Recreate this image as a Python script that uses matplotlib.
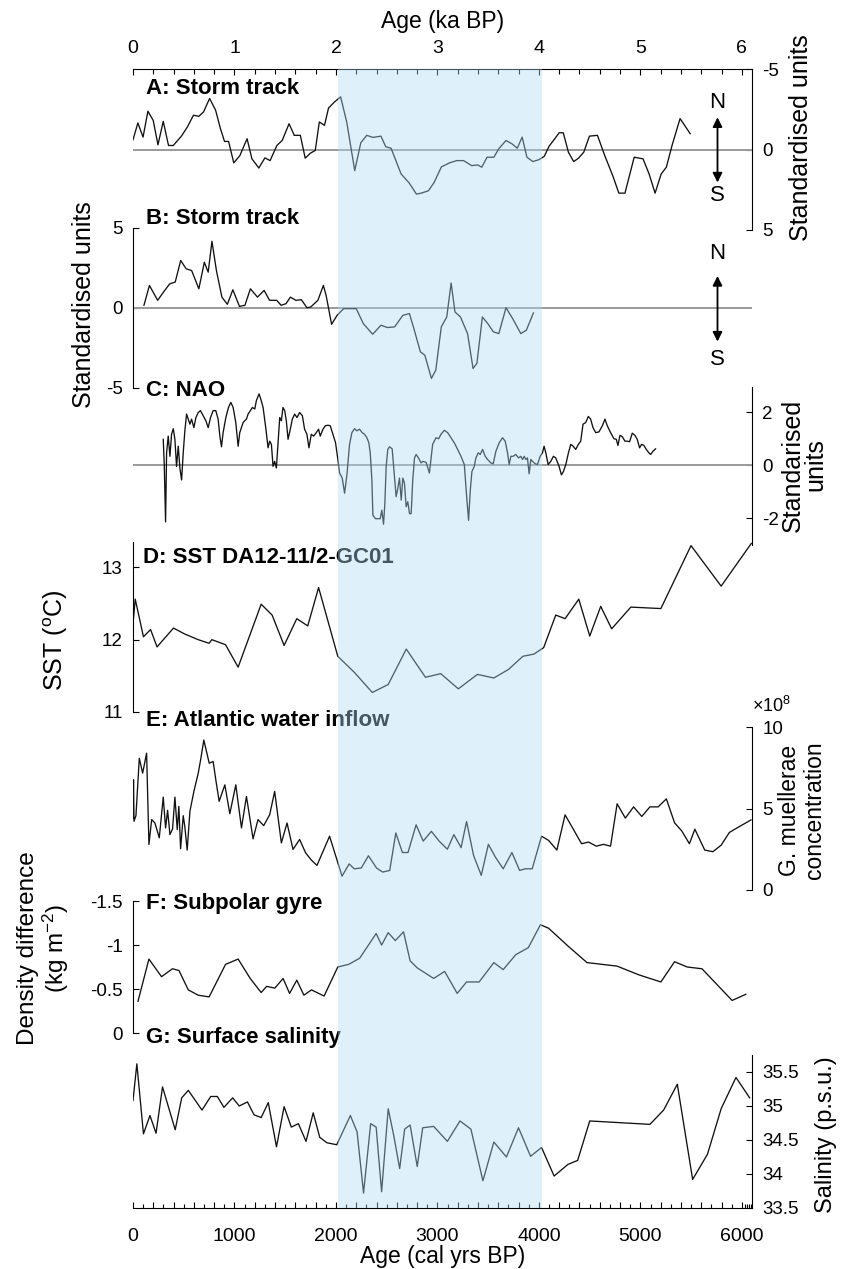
import matplotlib
matplotlib.use("Agg")
import matplotlib.pyplot as plt
from matplotlib.ticker import FixedLocator, FuncFormatter
from matplotlib import font_manager

names = {f.name for f in font_manager.fontManager.ttflist}
NARROW = ['Liberation Sans Narrow', 'Liberation Sans', 'DejaVu Sans'] if 'Liberation Sans Narrow' in names else ['Liberation Sans', 'DejaVu Sans']
REG = ['Liberation Sans', 'DejaVu Sans']
plt.rcParams['font.family'] = REG
plt.rcParams['mathtext.fontset'] = 'custom'
plt.rcParams['mathtext.rm'] = 'Liberation Sans'
plt.rcParams['mathtext.it'] = 'Liberation Sans:italic'
plt.rcParams['axes.unicode_minus'] = False

# ---------------- data ----------------
a_age = [0, 48, 99, 147, 199, 246, 298, 350, 397, 477, 536, 596, 648, 695, 755, 814, 862, 902, 942, 993,
         1053, 1124, 1172, 1240, 1300, 1351, 1418, 1470, 1538, 1589, 1649, 1697, 1748, 1796, 1836, 1887,
         1927, 1987, 2046, 2106, 2185, 2245, 2304, 2364, 2443, 2491, 2543, 2642, 2722, 2793, 2841, 2912,
         2968, 3039, 3119, 3190, 3258, 3337, 3397, 3437, 3489, 3556, 3604, 3676, 3735, 3787, 3835, 3882,
         3941, 4001, 4053, 4101, 4152, 4200, 4240, 4291, 4343, 4390, 4442, 4498, 4577, 4649, 4728, 4788,
         4848, 4939, 5026, 5086, 5145, 5205, 5256, 5312, 5391, 5491]
a_val = [-0.60, -1.65, -0.77, -2.38, -1.81, -0.29, -1.75, -0.25, -0.25, -0.83, -1.40, -2.13, -2.06, -2.33,
         -3.17, -2.44, -1.29, -0.50, -0.50, 0.83, 0.38, -0.67, 0.58, 1.15, 0.52, 0.69, -0.25, -0.56, -1.60,
         -0.88, -0.88, 0.54, 0.23, 0.06, -1.71, -1.50, -2.58, -2.96, -3.27, -1.71, 1.31, -0.42, -0.88, -0.75,
         -0.83, -0.17, -0.08, 1.52, 2.08, 2.77, 2.71, 2.56, 2.04, 1.08, 0.83, 0.69, 0.69, 1.00, 0.96, 1.10,
         0.48, 0.48, -0.04, -0.56, -0.35, -0.08, -0.77, 0.48, 0.75, 0.63, 0.42, -0.21, -0.63, -1.04, -1.04,
         0.17, 0.75, 0.54, 0.17, -0.83, -0.88, 0.38, 1.63, 2.71, 2.71, 0.48, 0.58, 1.52, 2.71, 1.52, 1.10,
         -0.25, -1.92, -0.98]

b_age = [108, 162, 243, 308, 362, 416, 470, 524, 578, 649, 703, 741, 778, 822, 876, 930, 984, 1049, 1103,
         1157, 1227, 1292, 1346, 1416, 1459, 1508, 1551, 1605, 1659, 1714, 1751, 1822, 1876, 1903, 1957,
         2011, 2076, 2146, 2200, 2270, 2362, 2443, 2508, 2578, 2659, 2724, 2768, 2832, 2876, 2941, 2984,
         3038, 3092, 3135, 3173, 3227, 3297, 3351, 3389, 3443, 3497, 3551, 3605, 3676, 3741, 3822, 3876, 3946]
b_val = [0.17, 1.41, 0.48, 1.06, 1.51, 1.62, 2.97, 2.45, 2.34, 1.20, 2.86, 2.24, 4.17, 2.34, 0.68, 0.23,
         1.14, 0.10, 0.17, 1.20, 0.68, 1.10, 0.48, 0.48, 0.17, 0.27, 0.68, 0.48, 0.52, 0.02, 0.06, 0.48,
         1.41, 0.79, -1.02, -0.46, -0.04, -0.04, -0.04, -0.98, -1.64, -1.08, -1.22, -1.18, -0.46, -0.35,
         -1.29, -2.74, -2.95, -4.40, -3.88, -1.18, -0.56, 1.56, -0.25, -0.56, -1.60, -3.78, -3.46, -0.56,
         -0.98, -1.49, -1.60, 0.02, -0.66, -1.60, -1.39, -0.31]

c_age = [298, 308, 321, 331, 347, 364, 380, 397, 413, 429, 446, 462, 479, 495, 511, 528, 544, 561, 577,
         600, 620, 643, 665, 692, 718, 741, 764, 790, 816, 839, 856, 872, 888, 915, 941, 964, 987, 1013,
         1036, 1052, 1085, 1101, 1118, 1134, 1157, 1177, 1200, 1216, 1242, 1259, 1282, 1308, 1331, 1347,
         1364, 1380, 1396, 1413, 1429, 1446, 1462, 1478, 1495, 1511, 1528, 1550, 1570, 1593, 1616, 1642,
         1669, 1691, 1714, 1734, 1757, 1780, 1806, 1829, 1845, 1872, 1895, 1921, 1944, 1970, 1996, 2019,
         2036, 2062, 2085, 2108, 2134, 2157, 2183, 2206, 2232, 2259, 2282, 2305, 2324, 2338, 2354, 2364,
         2390, 2413, 2436, 2452, 2469, 2482, 2495, 2511, 2528, 2554, 2577, 2593, 2610, 2626, 2643, 2659,
         2675, 2692, 2708, 2725, 2741, 2757, 2774, 2790, 2813, 2839, 2856, 2889, 2921, 2953, 2986, 3012,
         3035, 3068, 3101, 3134, 3166, 3199, 3232, 3265, 3288, 3307, 3324, 3340, 3363, 3379, 3402, 3422,
         3445, 3471, 3494, 3527, 3550, 3576, 3609, 3642, 3668, 3691, 3707, 3724, 3746, 3773, 3799, 3822,
         3838, 3855, 3871, 3887, 3904, 3920, 3937, 3963, 3986, 4012, 4035, 4051, 4068, 4091, 4117, 4143,
         4166, 4183, 4199, 4222, 4242, 4265, 4291, 4314, 4337, 4363, 4389, 4412, 4435, 4461, 4487, 4510,
         4533, 4560, 4592, 4625, 4651, 4674, 4707, 4740, 4763, 4779, 4799, 4822, 4848, 4871, 4894, 4920,
         4946, 4969, 4992, 5012, 5035, 5058, 5084, 5101, 5124, 5150]
c_val = [0.98, 0.03, -2.13, 0.47, 1.10, 0.34, 1.17, 1.38, 0.98, -0.04, 0.72, -0.10, -0.55, 0.47, 1.30,
         1.93, 1.74, 1.55, 1.74, 1.42, 1.80, 1.99, 2.06, 1.87, 1.68, 1.42, 1.80, 2.06, 2.06, 1.74, 1.10,
         0.70, 1.23, 1.80, 2.18, 2.37, 2.18, 1.61, 0.72, 1.23, 1.61, 1.68, 1.74, 1.93, 2.06, 2.18, 2.12,
         2.44, 2.69, 2.50, 2.18, 1.42, 0.66, 0.91, 0.79, -0.04, 0.15, -0.10, 0.85, 1.80, 1.68, 2.18, 2.06,
         1.68, 0.98, 1.36, 1.74, 1.93, 1.80, 1.99, 1.87, 1.36, 1.17, 0.66, 1.17, 1.10, 1.23, 1.36, 1.10,
         1.36, 1.49, 1.51, 1.49, 1.17, 0.85, 0.22, -0.29, -0.48, -1.05, -0.36, 0.79, 1.23, 1.38, 1.30,
         1.36, 1.23, 1.17, 1.04, 0.85, 0.47, -0.55, -1.88, -2.01, -2.01, -2.01, -1.69, -2.22, -1.43, -0.04,
         0.60, 0.70, 0.62, -0.42, -1.18, -0.86, -0.48, -1.31, -0.48, -0.67, -1.56, -1.37, -1.82, -1.82,
         -0.55, 0.28, 0.41, 0.28, 0.09, 0.15, 0.11, -0.29, 0.79, 1.04, 1.00, 1.17, 1.32, 1.23, 1.04, 0.85,
         0.60, 0.34, 0.03, -1.18, -2.07, -0.93, -0.23, -0.04, 0.28, 0.47, 0.41, 0.60, 0.34, 0.22, 0.09,
         0.06, 0.53, 0.85, 1.04, 0.91, 0.47, 0.03, 0.34, 0.34, 0.41, 0.28, 0.34, 0.22, 0.34, 0.22, 0.28,
         -0.32, 0.22, 0.15, 0.06, 0.03, 0.34, 0.47, 0.72, 0.47, 0.03, 0.15, 0.34, 0.28, 0.11, -0.04, -0.36,
         -0.23, 0.03, 0.47, 0.79, 0.72, 0.60, 0.79, 0.91, 1.55, 1.61, 1.84, 1.74, 1.42, 1.23, 1.26, 1.49,
         1.74, 1.49, 1.23, 1.00, 0.98, 0.75, 1.13, 1.08, 0.91, 0.91, 0.89, 1.21, 1.13, 0.98, 0.66, 0.79,
         0.75, 0.60, 0.47, 0.41, 0.53, 0.62]

d_age = [0, 22, 103, 173, 237, 399, 507, 642, 750, 777, 912, 1036, 1263, 1371, 1489, 1614, 1722, 1829,
         2018, 2180, 2358, 2515, 2693, 2882, 3033, 3206, 3394, 3556, 3702, 3842, 3950, 4047, 4166, 4258,
         4393, 4501, 4609, 4717, 4906, 5202, 5499, 5796, 6093]
d_val = [12.22, 12.56, 12.04, 12.14, 11.90, 12.16, 12.08, 12.00, 11.95, 12.00, 11.93, 11.62, 12.49, 12.34,
         11.92, 12.29, 12.19, 12.72, 11.77, 11.55, 11.27, 11.38, 11.87, 11.48, 11.53, 11.32, 11.52, 11.47,
         11.59, 11.77, 11.80, 11.89, 12.34, 12.29, 12.56, 12.05, 12.46, 12.15, 12.45, 12.43, 13.30, 12.74,
         13.33]

e_age = [0, 5, 10, 29, 62, 95, 134, 157, 184, 216, 259, 298, 321, 341, 364, 390, 413, 436, 452, 469, 495,
         511, 534, 561, 600, 643, 669, 698, 751, 790, 816, 849, 905, 954, 1013, 1069, 1118, 1183, 1232,
         1288, 1347, 1396, 1462, 1518, 1577, 1642, 1701, 1757, 1813, 1937, 2060, 2130, 2180, 2250, 2320,
         2400, 2460, 2530, 2590, 2655, 2710, 2790, 2860, 2940, 3017, 3098, 3162, 3233, 3287, 3357, 3432,
         3502, 3573, 3648, 3734, 3810, 3864, 3934, 4026, 4096, 4177, 4258, 4339, 4420, 4490, 4566, 4636,
         4706, 4771, 4852, 4933, 5014, 5094, 5175, 5256, 5337, 5407, 5483, 5537, 5634, 5715, 5796, 5877,
         5931, 6090]
e_val = [4.42, 6.76, 4.22, 4.56, 8.08, 7.17, 8.39, 2.79, 4.32, 4.11, 3.20, 5.70, 3.81, 4.89, 3.40, 3.75,
         5.70, 3.71, 5.13, 2.53, 4.56, 3.87, 2.45, 4.83, 6.05, 7.17, 8.08, 9.20, 7.78, 7.88, 6.76, 5.44,
         6.45, 4.68, 6.45, 3.81, 5.74, 3.14, 4.32, 3.95, 4.62, 6.05, 2.89, 4.11, 2.49, 3.10, 2.28, 1.84,
         1.51, 3.30, 0.85, 1.60, 1.30, 1.35, 2.10, 1.35, 1.10, 1.20, 3.50, 2.30, 2.30, 4.00, 3.00, 3.60,
         3.00, 2.50, 3.40, 2.60, 4.20, 2.10, 0.90, 2.80, 2.00, 1.30, 2.30, 1.20, 1.30, 1.30, 3.30, 3.04,
         2.45, 4.61, 3.73, 2.84, 2.94, 2.69, 2.80, 2.69, 5.29, 4.41, 5.10, 4.51, 5.10, 5.10, 5.59, 4.12,
         3.63, 2.84, 3.73, 2.45, 2.35, 2.75, 3.53, 3.73, 4.30]

f_age = [49, 157, 281, 389, 453, 545, 642, 750, 912, 1036, 1155, 1263, 1317, 1398, 1479, 1543, 1614, 1684,
         1759, 1883, 2018, 2126, 2234, 2315, 2396, 2450, 2515, 2585, 2666, 2731, 2801, 2882, 2963, 3071,
         3195, 3287, 3411, 3556, 3648, 3772, 3896, 4015, 4096, 4285, 4474, 4771, 4987, 5202, 5337, 5461,
         5607, 5904, 6039]
f_val = [-0.36, -0.84, -0.64, -0.73, -0.71, -0.49, -0.43, -0.41, -0.78, -0.84, -0.62, -0.46, -0.53, -0.51,
         -0.62, -0.45, -0.60, -0.43, -0.49, -0.42, -0.75, -0.78, -0.85, -0.99, -1.13, -1.00, -1.14, -1.05,
         -1.15, -0.82, -0.74, -0.68, -0.62, -0.70, -0.45, -0.58, -0.58, -0.80, -0.72, -0.89, -0.97, -1.23,
         -1.19, -0.99, -0.80, -0.76, -0.66, -0.58, -0.81, -0.75, -0.73, -0.37, -0.44]

g_age = [0, 38, 103, 167, 227, 291, 416, 480, 545, 680, 766, 831, 896, 982, 1047, 1128, 1193, 1263, 1333,
         1414, 1489, 1560, 1630, 1705, 1776, 1840, 1910, 2008, 2142, 2208, 2272, 2342, 2396, 2450, 2515,
         2569, 2628, 2677, 2731, 2801, 2855, 2963, 3098, 3222, 3330, 3448, 3556, 3680, 3799, 3918, 4026,
         4150, 4285, 4382, 4501, 5094, 5229, 5364, 5515, 5661, 5796, 5942, 6077]
g_val = [35.08, 35.62, 34.59, 34.86, 34.60, 35.28, 34.65, 35.12, 35.23, 34.94, 35.14, 35.14, 34.98, 35.12,
         35.00, 35.06, 34.87, 34.83, 35.05, 34.40, 34.99, 34.69, 34.74, 34.48, 34.90, 34.54, 34.46, 34.43,
         34.86, 34.62, 33.72, 34.74, 34.69, 33.74, 34.96, 34.57, 34.08, 34.66, 34.72, 34.11, 34.68, 34.70,
         34.48, 34.78, 34.66, 33.90, 34.47, 34.25, 34.68, 34.26, 34.39, 33.97, 34.14, 34.20, 34.78, 34.73,
         34.94, 35.32, 33.92, 34.29, 34.96, 35.42, 35.12]

labels = ['A: Storm track', 'B: Storm track', 'C: NAO', 'D: SST DA12-11/2-GC01',
          'E: Atlantic water inflow', 'F: Subpolar gyre', 'G: Surface salinity']
shade = (2020, 4030)

# ---------------- layout ----------------
W, H = 853, 1269
L_PX, R_PX = 133, 752
XMAX = 6100
fig = plt.figure(figsize=(W / 100, H / 100), dpi=100)


def add_ax(top, bot):
    ax = fig.add_axes([L_PX / W, 1 - bot / H, (R_PX - L_PX) / W, (bot - top) / H])
    ax.set_xlim(0, XMAX)
    ax.patch.set_alpha(0)
    for s in ax.spines.values():
        s.set_visible(False)
    ax.set_xticks([])
    return ax


LINE = dict(color='#111111', lw=0.95)
ZERO = dict(color='#9a9a9a', lw=1.4)
YTICKFS = 13.5
XTICKFS = 14
YLABFS = 18
PANFS = 16


def style_y(ax, side):
    ax.spines[side].set_visible(True)
    ax.spines[side].set_linewidth(0.8)
    if side == 'right':
        ax.yaxis.tick_right()
        ax.yaxis.set_label_position('right')
    else:
        ax.yaxis.tick_left()
    ax.tick_params(axis='y', direction='in', length=4, width=0.8, labelsize=YTICKFS, pad=7.5)
    for t in ax.get_yticklabels():
        t.set_family(NARROW)


def panel_label(ax, txt, x_px, y_px):
    ax.text(x_px / W, 1 - y_px / H, txt, transform=fig.transFigure, fontsize=PANFS,
            fontweight='bold', family=NARROW, ha='left', va='center', color='black')


def ylab(ax, txt, x_px, y_px, ax_top, ax_bot, fs=YLABFS, ls=1.0):
    """y label centred on the given pixel position (figure pixels from top-left)."""
    lab = ax.set_ylabel(txt, fontsize=fs, family=REG, linespacing=ls)
    lab.set_horizontalalignment('center')
    lab.set_verticalalignment('center')
    lab.set_multialignment('center')
    ax.yaxis.set_label_coords((x_px - L_PX) / (R_PX - L_PX), (ax_bot - y_px) / (ax_bot - ax_top))


def ns_arrow(ax, x, yn, y1, y2, ys):
    ax.annotate('', xy=(x, y1), xytext=(x, y2),
                arrowprops=dict(arrowstyle='<|-|>', color='black', lw=1.3, mutation_scale=14,
                                shrinkA=0, shrinkB=0))
    ax.text(x, yn, 'N', ha='center', va='center', fontsize=16, family=REG)
    ax.text(x, ys, 'S', ha='center', va='center', fontsize=16, family=REG)


# frame (top + bottom axes)
FR_TOP, FR_BOT = 69, 1208
frame = add_ax(FR_TOP, FR_BOT)
frame.spines['bottom'].set_visible(True)
frame.spines['bottom'].set_linewidth(0.8)
frame.set_yticks([])
bt_major = list(range(0, 6001, 200))
bt_minor = list(range(100, 6001, 200)) + [6030, 6050, 6070, 6090]
frame.xaxis.set_major_locator(FixedLocator(bt_major))
frame.xaxis.set_minor_locator(FixedLocator(bt_minor))
frame.xaxis.set_major_formatter(FuncFormatter(lambda v, p: f'{int(v)}' if int(v) % 1000 == 0 else ''))
frame.tick_params(axis='x', which='major', direction='in', length=4.5, width=0.8, labelsize=XTICKFS, pad=14.5)
frame.tick_params(axis='x', which='minor', direction='in', length=3, width=0.8)
for t in frame.get_xticklabels():
    t.set_family(NARROW)
frame.set_xlabel('Age (cal yrs BP)', fontsize=16.5, family=NARROW, labelpad=0)

top = frame.twiny()
top.set_xlim(0, XMAX / 1000)
for s in top.spines.values():
    s.set_visible(False)
top.spines['top'].set_visible(True)
top.spines['top'].set_linewidth(0.8)
top.xaxis.set_major_locator(FixedLocator(range(0, 7)))
top.xaxis.set_minor_locator(FixedLocator([i / 5 for i in range(0, 31)]))
top.tick_params(axis='x', which='major', direction='in', length=4, width=0.8, labelsize=XTICKFS, pad=8.5)
top.tick_params(axis='x', which='minor', direction='in', length=3.5, width=0.8)
for t in top.get_xticklabels():
    t.set_family(NARROW)
top.set_xlabel('Age (ka BP)', fontsize=16.5, family=NARROW, labelpad=9)

# A
A_T, A_B = 69, 230
axA = add_ax(A_T, A_B)
axA.axhline(0, **ZERO)
axA.plot(a_age, a_val, **LINE)
axA.set_ylim(5, -5)
axA.set_yticks([-5, 0, 5])
style_y(axA, 'right')
ylab(axA, 'Standardised units', 801, 138, A_T, A_B)
ns_arrow(axA, 5760, -2.95, -2.0, 2.05, 2.85)
panel_label(axA, labels[0], 146, 88)

# B
B_T, B_B = 228, 388
axB = add_ax(B_T, B_B)
axB.axhline(0, **ZERO)
axB.plot(b_age, b_val, **LINE)
axB.set_ylim(-5, 5)
axB.set_yticks([-5, 0, 5])
style_y(axB, 'left')
ylab(axB, 'Standardised units', 84, 305, B_T, B_B)
ns_arrow(axB, 5760, 3.4, 2.0, -2.1, -3.2)
panel_label(axB, labels[1], 146, 218)

# C
C_T, C_B = 387, 545
axC = add_ax(C_T, C_B)
axC.axhline(0, **ZERO)
axC.plot(c_age, c_val, **LINE)
axC.set_ylim(-3.0, 2.95)
axC.set_yticks([-2, 0, 2])
style_y(axC, 'right')
ylab(axC, 'Standarised\nunits', 804, 465, C_T, C_B, ls=0.95)
panel_label(axC, labels[2], 146, 390)

# D
D_T, D_B = 542, 712
axD = add_ax(D_T, D_B)
axD.plot(d_age, d_val, **LINE)
axD.set_ylim(11, 13.35)
axD.set_yticks([11, 12, 13])
style_y(axD, 'left')
ylab(axD, 'SST ($^{\\rm o}$C)', 56, 640, D_T, D_B)
panel_label(axD, labels[3], 143, 557)

# E
E_T, E_B = 727, 890
axE = add_ax(E_T, E_B)
axE.plot(e_age, e_val, **LINE)
axE.set_ylim(0, 10)
axE.set_yticks([0, 5, 10])
style_y(axE, 'right')
ylab(axE, 'G. muellerae\nconcentration', 802, 810, E_T, E_B, fs=16.5, ls=1.1)
axE.text((772 - L_PX) / (R_PX - L_PX), (E_B - 706) / (E_B - E_T), '$\\times 10^{8}$',
         transform=axE.transAxes, ha='center', va='center', fontsize=13)
panel_label(axE, labels[4], 146, 720)

# F
F_T, F_B = 901, 1033
axF = add_ax(F_T, F_B)
axF.plot(f_age, f_val, **LINE)
axF.set_ylim(0, -1.5)
axF.set_yticks([0, -0.5, -1, -1.5])
axF.yaxis.set_major_formatter(FuncFormatter(lambda v, p: ('%g' % v)))
style_y(axF, 'left')
ylab(axF, 'Density difference\n(kg m$^{-2}$)', 44, 948, F_T, F_B, fs=17.5, ls=1.08)
panel_label(axF, labels[5], 146, 903)

# G
G_T, G_B = 1055, 1208
axG = add_ax(G_T, G_B)
axG.plot(g_age, g_val, **LINE)
axG.set_ylim(33.5, 35.75)
axG.set_yticks([33.5, 34, 34.5, 35, 35.5])
axG.yaxis.set_major_formatter(FuncFormatter(lambda v, p: ('%g' % v)))
style_y(axG, 'right')
ylab(axG, 'Salinity (p.s.u.)', 826, 1135, G_T, G_B, fs=17)
panel_label(axG, labels[6], 146, 1037)

# shading overlay (drawn last, semi-transparent, over everything)
ov = add_ax(FR_TOP, FR_BOT)
ov.set_yticks([])
ov.axvspan(shade[0], shade[1], color=(0.678, 0.853, 0.95), alpha=0.4, lw=0)

fig.savefig('out.png', dpi=100)
